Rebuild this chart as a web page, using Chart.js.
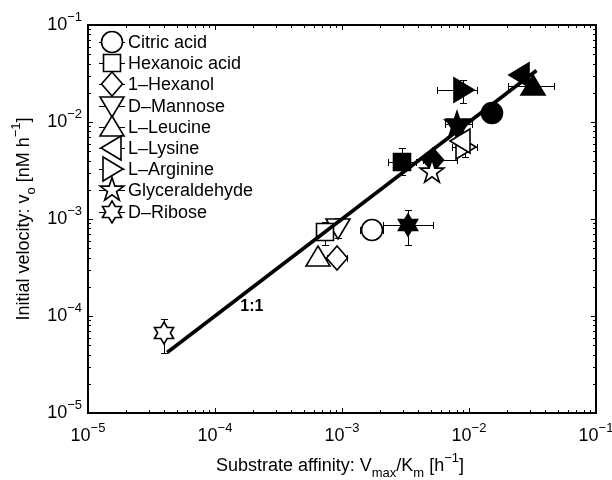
<!DOCTYPE html>
<html>
<head>
<meta charset="utf-8">
<script src="https://cdn.jsdelivr.net/npm/chart.js@4.4.0/dist/chart.umd.min.js"></script>
<style>
  body { margin: 0; background: #fff; }
</style>
</head>
<body>
<canvas id="chart" width="612" height="480"></canvas>
<script>
// substrates, in legend order
const substrates = ['Citric acid', 'Hexanoic acid', '1\u2013Hexanol', 'D\u2013Mannose', 'L\u2013Leucine',
    'L\u2013Lysine', 'L\u2013Arginine', 'Glyceraldehyde', 'D\u2013Ribose'];
const shapes = ['circle', 'square', 'diamond', 'triDown', 'triUp', 'triLeft', 'triRight', 'pentagram', 'hexagram'];

// open symbols
const openX = [1.72e-3, 7.3e-4, 9.1e-4, 9.3e-4, 6.5e-4, 8.6e-3, 9.3e-3, 5.1e-3, 4.0e-5];
const openY = [7.7e-4, 7.3e-4, 4.0e-4, 8.1e-4, 4.1e-4, 6.3e-3, 5.5e-3, 3.05e-3, 6.7e-5];
const openXErr = [[1.39e-3, 2.1e-3], null, [7.6e-4, 1.09e-3], null, null, null, [7.3e-3, 1.15e-2], null, [3.7e-5, 4.4e-5]];
const openYErr = [null, [5.4e-4, 9.3e-4], null, [6.4e-4, 1.02e-3], null, null, [4.4e-3, 7.0e-3], null, [4.16e-5, 9.3e-5]];

// filled symbols
const filledX = [1.52e-2, 2.96e-3, 5.2e-3, 8.2e-3, 3.2e-2, 2.52e-2, 9.0e-3, 8.05e-3, 3.3e-3];
const filledY = [1.24e-2, 3.87e-3, 4.06e-3, 8.6e-3, 2.35e-2, 3.05e-2, 2.14e-2, 9.55e-3, 8.7e-4];
const filledXErr = [null, [2.3e-3, 3.8e-3], [4.35e-3, 8.05e-3], null, [2.03e-2, 4.67e-2], null, [5.6e-3, 1.16e-2], [6.5e-3, 1.06e-2], [2.1e-3, 5.2e-3]];
const filledYErr = [null, [2.84e-3, 5.4e-3], null, null, null, null, [1.57e-2, 2.71e-2], null, [5.4e-4, 1.24e-3]];

// 1:1 line and its label
const lineEnds = [4.2e-5, 3.4e-2];
const lineLabel = { text: '1:1', x: 1.95e-4, y: 1.24e-4 };

const tickExps = [-5, -4, -3, -2, -1];

const FONT = '"Liberation Sans", Arial, Helvetica, sans-serif';

// ---------- marker images ----------
function poly(ctx, pts) {
    ctx.moveTo(pts[0][0], pts[0][1]);
    for (let i = 1; i < pts.length; i++) ctx.lineTo(pts[i][0], pts[i][1]);
}

function star(ctx, n, ro, ri) {
    const pts = [];
    for (let i = 0; i < n * 2; i++) {
        const a = -Math.PI / 2 + i * Math.PI / n;
        const r = i % 2 === 0 ? ro : ri;
        pts.push([r * Math.cos(a), r * Math.sin(a)]);
    }
    poly(ctx, pts);
}

function markerPath(ctx, shape) {
    ctx.beginPath();
    switch (shape) {
        case 'circle': ctx.arc(0, 0, 10.5, 0, Math.PI * 2); break;
        case 'square': ctx.rect(-8.5, -8.5, 17, 17); break;
        case 'diamond': poly(ctx, [[0, -12], [10.5, 0], [0, 12], [-10.5, 0]]); break;
        case 'triUp': poly(ctx, [[0, -11], [12, 9], [-12, 9]]); break;
        case 'triDown': poly(ctx, [[0, 11], [12, -9], [-12, -9]]); break;
        case 'triLeft': poly(ctx, [[-11, 0], [9, -12], [9, 12]]); break;
        case 'triRight': poly(ctx, [[11, 0], [-9, -12], [-9, 12]]); break;
        case 'pentagram': star(ctx, 5, 12.5, 4.8); break;
        case 'hexagram': star(ctx, 6, 11, 6.35); break;
    }
    ctx.closePath();
}

function makeMarker(shape, filled) {
    const c = document.createElement('canvas');
    c.width = 32; c.height = 32;
    const ctx = c.getContext('2d');
    ctx.translate(16, 16);
    markerPath(ctx, shape);
    ctx.fillStyle = filled ? '#000' : '#fff';
    ctx.fill();
    ctx.strokeStyle = '#000';
    ctx.lineWidth = 1.6;
    ctx.stroke();
    return c;
}

const openMarkers = shapes.map(s => makeMarker(s, false));
const filledMarkers = shapes.map(s => makeMarker(s, true));

// ---------- datasets ----------
const datasets = [{
    label: '1:1',
    data: lineEnds.map(v => ({ x: v, y: v })),
    showLine: true,
    borderColor: '#000',
    borderWidth: 3.6,
    pointRadius: 0
}];
substrates.forEach((name, i) => {
    datasets.push({ label: name, data: [{ x: openX[i], y: openY[i] }], pointStyle: openMarkers[i], pointRadius: 11 });
});
substrates.forEach((name, i) => {
    datasets.push({ label: name + ' (filled)', data: [{ x: filledX[i], y: filledY[i] }], pointStyle: filledMarkers[i], pointRadius: 11 });
});

// ---------- plugins ----------
const snap = v => Math.round(v) + 0.5;

const errorBars = {
    id: 'errorBars',
    beforeDatasetsDraw(chart) {
        const { ctx, scales: { x, y } } = chart;
        const cap = 3.5;
        ctx.save();
        ctx.strokeStyle = '#000';
        ctx.lineWidth = 1;
        const draw = (xs, ys, xe, ye) => {
            xs.forEach((xv, i) => {
                const px = snap(x.getPixelForValue(xv)), py = snap(y.getPixelForValue(ys[i]));
                ctx.beginPath();
                if (xe[i]) {
                    const a = snap(x.getPixelForValue(xe[i][0])), b = snap(x.getPixelForValue(xe[i][1]));
                    ctx.moveTo(a, py); ctx.lineTo(b, py);
                    ctx.moveTo(a, py - cap); ctx.lineTo(a, py + cap);
                    ctx.moveTo(b, py - cap); ctx.lineTo(b, py + cap);
                }
                if (ye[i]) {
                    const a = snap(y.getPixelForValue(ye[i][0])), b = snap(y.getPixelForValue(ye[i][1]));
                    ctx.moveTo(px, a); ctx.lineTo(px, b);
                    ctx.moveTo(px - cap, a); ctx.lineTo(px + cap, a);
                    ctx.moveTo(px - cap, b); ctx.lineTo(px + cap, b);
                }
                ctx.stroke();
            });
        };
        draw(filledX, filledY, filledXErr, filledYErr);
        draw(openX, openY, openXErr, openYErr);
        ctx.restore();
        // keep marker images crisp
        ctx.imageSmoothingEnabled = false;
    },
    afterDatasetsDraw(chart) {
        chart.ctx.imageSmoothingEnabled = true;
    }
};

// draws text pieces: [text, 'n' | 'sub' | 'sup']
function richText(ctx, parts, x, y, size, align) {
    const small = Math.round(size * 0.72);
    const widths = parts.map(p => {
        ctx.font = (p[1] === 'n' ? size : small) + 'px ' + FONT;
        return ctx.measureText(p[0]).width;
    });
    const total = widths.reduce((a, b) => a + b, 0);
    let cx = align === 'center' ? x - total / 2 : align === 'right' ? x - total : x;
    parts.forEach((p, i) => {
        ctx.font = (p[1] === 'n' ? size : small) + 'px ' + FONT;
        const dy = p[1] === 'sub' ? size * 0.32 : p[1] === 'sup' ? -size * 0.5 : 0;
        ctx.fillText(p[0], cx, y + dy);
        cx += widths[i];
    });
}

const axesDecor = {
    id: 'axesDecor',
    afterDraw(chart) {
        const { ctx, chartArea: ca, scales: { x, y } } = chart;
        ctx.save();
        ctx.strokeStyle = '#000';
        ctx.fillStyle = '#000';

        // inward ticks on all four sides
        ctx.lineWidth = 1;
        ctx.beginPath();
        tickExps.forEach((e, k) => {
            for (let m = 1; m <= 9; m++) {
                if (k === tickExps.length - 1 && m > 1) break;
                const v = m * Math.pow(10, e);
                const len = m === 1 ? 5 : 3;
                const px = snap(x.getPixelForValue(v));
                ctx.moveTo(px, ca.bottom); ctx.lineTo(px, ca.bottom - len);
                ctx.moveTo(px, ca.top); ctx.lineTo(px, ca.top + len);
                const py = snap(y.getPixelForValue(v));
                ctx.moveTo(ca.left, py); ctx.lineTo(ca.left + len, py);
                ctx.moveTo(ca.right, py); ctx.lineTo(ca.right - len, py);
            }
        });
        ctx.stroke();

        // box
        ctx.lineWidth = 2;
        ctx.strokeRect(ca.left, ca.top, ca.right - ca.left, ca.bottom - ca.top);

        // tick labels
        ctx.textBaseline = 'alphabetic';
        tickExps.forEach(e => {
            const v = Math.pow(10, e);
            const sup = '\u2212' + Math.abs(e);
            richText(ctx, [['10', 'n'], [sup, 'sup']], x.getPixelForValue(v), ca.bottom + 28, 18, 'center');
            richText(ctx, [['10', 'n'], [sup, 'sup']], ca.left - 6, y.getPixelForValue(v) + 5, 18, 'right');
        });

        // axis titles
        richText(ctx, [['Substrate affinity: V', 'n'], ['max', 'sub'], ['/K', 'n'], ['m', 'sub'],
            [' [h', 'n'], ['\u22121', 'sup'], [']', 'n']], (ca.left + ca.right) / 2 - 2, ca.bottom + 58, 18, 'center');
        ctx.save();
        ctx.translate(29, (ca.top + ca.bottom) / 2);
        ctx.rotate(-Math.PI / 2);
        richText(ctx, [['Initial velocity: v', 'n'], ['o', 'sub'], [' [nM h', 'n'], ['\u22121', 'sup'], [']', 'n']],
            0, 0, 18, 'center');
        ctx.restore();

        // 1:1 label
        ctx.font = 'bold 16px ' + FONT;
        ctx.textAlign = 'center';
        ctx.textBaseline = 'middle';
        ctx.fillText(lineLabel.text, x.getPixelForValue(lineLabel.x), y.getPixelForValue(lineLabel.y));

        // legend (matlab style: line through marker)
        const lx = ca.left + 24;
        ctx.textAlign = 'left';
        ctx.font = '18px ' + FONT;
        substrates.forEach((name, i) => {
            const ly = Math.round(ca.top + 17 + i * 21.2) + 0.5;
            ctx.lineWidth = 1;
            ctx.beginPath();
            ctx.moveTo(lx - 13, ly); ctx.lineTo(lx + 13, ly);
            ctx.stroke();
            const img = openMarkers[i];
            ctx.drawImage(img, lx - img.width / 2, ly - 0.5 - img.height / 2);
            ctx.fillText(name, lx + 16, ly + 1);
        });
        ctx.restore();
    }
};

new Chart(document.getElementById('chart'), {
    type: 'scatter',
    data: { datasets },
    options: {
        responsive: false,
        animation: false,
        events: [],
        layout: { padding: { left: 88, right: 16, top: 25, bottom: 67 } },
        plugins: { legend: { display: false }, tooltip: { enabled: false } },
        scales: {
            x: { type: 'logarithmic', min: 1e-5, max: 1e-1, display: false },
            y: { type: 'logarithmic', min: 1e-5, max: 1e-1, display: false }
        }
    },
    plugins: [errorBars, axesDecor]
});
</script>
</body>
</html>
